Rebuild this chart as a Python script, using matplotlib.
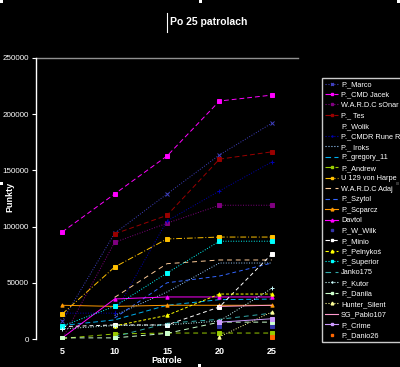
import numpy as np
import matplotlib
matplotlib.use("Agg")
import matplotlib.pyplot as plt
from matplotlib.patches import Rectangle
from matplotlib.lines import Line2D

plt.rcParams["font.family"] = ["Liberation Sans", "DejaVu Sans"]

nan = np.nan
patrole = ["5", "10", "15", "20", "25"]

# wartosci punktow po kolejnych patrolach
marco = [16000, 94000, 129000, 163700, 192000]
cmd_jacek = [95200, 129000, 162800, 211700, 217000]
sonar = [0, 86000, 103000, 119000, 119000]
tes = [nan, 93500, 110000, 160000, 166500]
wolik = [nan, nan, nan, nan, nan]
cmdr_rune = [23000, 23000, 105000, 131700, 157500]
iroks = [nan, 21000, 41800, 67600, 67600]
gregory = [12000, 17000, 30000, 35000, 35500]
andrew = [500, 4500, 5300, 5300, 5300]
von_harpe = [22200, 64000, 89000, 90700, 90700]
adaj = [nan, 37000, 67000, 70300, 70300]
szytol = [nan, 18700, 50000, 56000, 67600]
scparcz = [30000, 29000, 30000, 30000, 30000]
davtol = [1000, 35600, 37400, 37400, 37400]
w_wilk = [nan, nan, nan, 11600, 11600]
minio = [11000, 12500, 12500, 28500, 75600]
pelnykos = [nan, 11600, 21000, 40000, 40000]
superior = [11500, 29000, 58700, 87000, 87000]
janko = [nan, 2000, 14000, 17500, 23000]
kutor = [9000, 12000, 12500, 16000, 45000]
danila = [1000, 1000, 5000, 15000, 15000]
hunter = [nan, nan, nan, 2000, 24000]
pablo = [nan, nan, nan, 29000, 30000]
crime = [nan, nan, nan, 15000, 18000]
danio = [nan, nan, nan, nan, 1500]

series = [
    ("P._Marco", marco, "#4040c0", ":", "x"),
    ("P._CMD Jacek", cmd_jacek, "#ff00ff", (0, (5, 3)), "s"),
    ("W.A.R.D.C sOnar", sonar, "#800080", ":", "s"),
    ("P._ Tes", tes, "#990000", (0, (5, 3)), "s"),
    ("P._Wolik", wolik, "#000000", "-", ""),
    ("P._CMDR Rune R", cmdr_rune, "#0000b0", ":", "+"),
    ("P._ Iroks", iroks, "#99ccff", ":", ""),
    ("P._gregory_11", gregory, "#00b0f0", (0, (5, 3)), ""),
    ("P._Andrew", andrew, "#99cc00", (0, (5, 4)), "s"),
    ("U 129 von Harpe", von_harpe, "#ffc000", (0, (6, 2, 1, 2)), "s"),
    ("W.A.R.D.C Adaj", adaj, "#ffcc99", (0, (5, 4)), ""),
    ("P._Szytol", szytol, "#3366ff", (0, (4, 3)), ""),
    ("P._Scparcz", scparcz, "#ff9900", "-", "^"),
    ("Davtol", davtol, "#ff00ff", "-", "^"),
    ("P._W_Wilk", w_wilk, "#3333aa", "", "s"),
    ("P._Minio", minio, "#ffffff", (0, (4, 3)), "s"),
    ("P._Pelnykoś", pelnykos, "#ffff00", (0, (3, 2)), "^"),
    ("P._Superior", superior, "#00ffff", ":", "s"),
    ("Janko175", janko, "#33aaaa", (0, (5, 4)), ""),
    ("P._Kutor", kutor, "#ccffff", ":", "+"),
    ("P._Danila", danila, "#ccffcc", (0, (5, 4)), "s"),
    ("Hunter_Silent", hunter, "#ffff99", ":", "^"),
    ("SG_Pablo107", pablo, "#ff99cc", "-", ""),
    ("P._Crime", crime, "#cc99ff", "-", "s"),
    ("P._Danio26", danio, "#ff6600", "", "s"),
]

fig = plt.figure(figsize=(4.0, 3.67), dpi=100, facecolor="black")
ax = fig.add_axes([36 / 400, 1 - 339 / 367, 262 / 400, 281 / 367])
ax.set_facecolor("black")

x = np.arange(len(patrole))
handles = []
for name, vals, col, ls, mk in series:
    y = np.array(vals, dtype=float)
    ok = ~np.isnan(y)
    line_style = ls if ls != "" else "None"
    ax.plot(x[ok], y[ok], color=col, linestyle=line_style, linewidth=0.7,
            marker=mk if mk else None, markersize=2.4, markeredgewidth=0.7)
    handles.append(Line2D([], [], color=col, linestyle=line_style, linewidth=0.8,
                          marker=mk if mk else None, markersize=2.0))

ax.set_xlim(-0.5, len(patrole) - 0.5)
ax.set_ylim(0, 250000)
ax.set_xticks(x)
ax.set_xticklabels(patrole)
ax.set_yticks(np.arange(0, 250001, 50000))
ax.set_yticklabels([str(v) for v in range(0, 250001, 50000)])
ax.tick_params(axis="x", colors="white", length=0, labelsize=6.5, pad=6)
ax.tick_params(axis="y", colors="white", length=3, width=0.8, labelsize=5.8, pad=2)
for lbl in ax.get_xticklabels():
    lbl.set_fontweight("bold")

for side in ("top", "right", "bottom"):
    ax.spines[side].set_visible(False)
ax.spines["left"].set_color("white")
ax.spines["left"].set_linewidth(1.0)
ax.axhline(250000, color="#909090", linewidth=1.0, clip_on=False)

ax.set_xlabel("Patrole", color="white", fontsize=6.5, fontweight="bold", labelpad=0)
fig.text(10 / 400, 1 - 197 / 367, "Punkty", color="white", fontsize=6.5,
         fontweight="bold", rotation=90, ha="center", va="center")

fig.text(170 / 400, 1 - 22 / 367, "Po 25 patrolach", color="white", fontsize=7.5,
         fontweight="bold", ha="left", va="center")
fig.add_artist(Line2D([167 / 400, 167 / 400], [1 - 13 / 367, 1 - 32 / 367],
                      color="white", linewidth=0.8))

leg = fig.legend(handles, [s[0] for s in series], loc="upper left",
                 bbox_to_anchor=(322 / 400, 1 - 78 / 367), fontsize=5.3,
                 frameon=True, facecolor="black", edgecolor="white",
                 labelcolor="white", handlelength=1.8, handletextpad=0.4,
                 labelspacing=0.45, borderpad=0.4, borderaxespad=0, fancybox=False)
leg.get_frame().set_linewidth(1.0)

# uchwyty zaznaczenia wykresu
for hx, hy in [(0, 0), (199, 0), (397, 0), (0, 182), (396, 182), (198, 364)]:
    fig.add_artist(Rectangle((hx / 400, 1 - (hy + 3) / 367), 3 / 400, 3 / 367,
                             facecolor="white", edgecolor="none"))

fig.savefig("out.png", dpi=100, facecolor="black")
